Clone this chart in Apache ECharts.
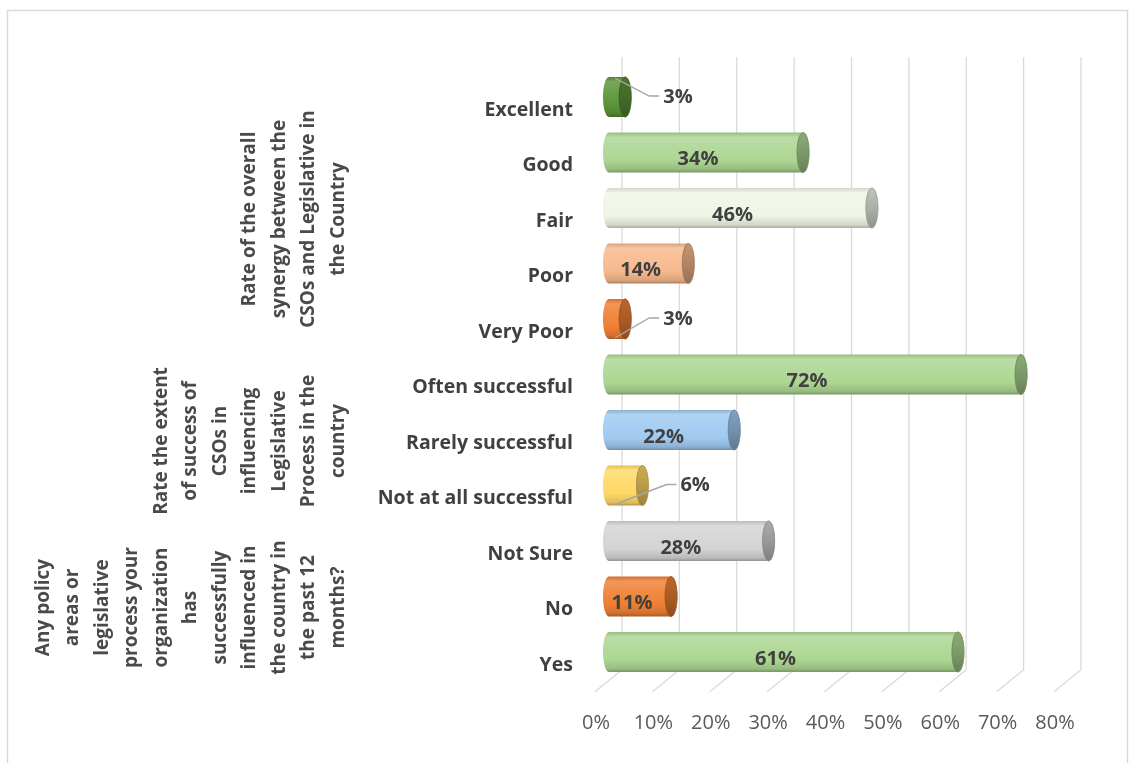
<!DOCTYPE html>
<html><head><meta charset="utf-8">
<script src="https://cdn.jsdelivr.net/npm/echarts@6/dist/echarts.min.js"></script>
<style>html,body{margin:0;padding:0;background:#fff;} #c{width:1135px;height:763px;}</style>
</head><body><div id="c"></div>
<script>
const categories = ['Excellent','Good','Fair','Poor','Very Poor','Often successful','Rarely successful','Not at all successful','Not Sure','No','Yes'];
const values = [3,34,46,14,3,72,22,6,28,11,61];
const groupLabels = [
  'Rate of the overall\nsynergy between the\nCSOs and Legislative in\nthe Country',
  'Rate the extent\nof success of\nCSOs in\ninfluencing\nLegislative\nProcess in the\ncountry',
  'Any policy\nareas or\nlegislative\nprocess your\norganization\nhas\nsuccessfully\ninfluenced in\nthe country in\nthe past 12\nmonths?'
];
const groupSizes = [5,3,3];
const tickValues = [0,10,20,30,40,50,60,70,80];
const barColors = ['#5b9438','#acd692','#eef6e6','#f7b98d','#ee7f33','#acd692','#a0caf0','#ffd966','#d4d4d4','#ee7f33','#acd692'];

const FONT = '"Open Sans", "Noto Sans", sans-serif';

function shade(hex, f){
  const n = parseInt(hex.slice(1),16);
  let r=(n>>16)&255, g=(n>>8)&255, b=n&255;
  if (f>=0){ r+= (255-r)*f; g+=(255-g)*f; b+=(255-b)*f; }
  else { r*=1+f; g*=1+f; b*=1+f; }
  return 'rgb('+Math.round(r)+','+Math.round(g)+','+Math.round(b)+')';
}

function bodyGrad(base){
  return new echarts.graphic.LinearGradient(0,0,0,1,[
    {offset:0, color: shade(base,-0.12)},
    {offset:0.12, color: shade(base,0.18)},
    {offset:0.35, color: shade(base,0.1)},
    {offset:0.7, color: base},
    {offset:0.92, color: shade(base,-0.12)},
    {offset:1, color: shade(base,-0.3)}
  ]);
}
function capGrad(base){
  return new echarts.graphic.LinearGradient(0,0,0,1,[
    {offset:0, color: shade(base,-0.2)},
    {offset:0.5, color: shade(base,-0.28)},
    {offset:1, color: shade(base,-0.4)}
  ]);
}

function renderBar(params, api){
  const v = api.value(0), idx = api.value(1);
  const p0 = api.coord([0, idx]);
  const p1 = api.coord([v, idx]);
  const h = api.size([0,1])[1] * 0.72;
  const yc = p0[1];
  const rx = 6;
  const s = p0[0] - 10;
  const e = p1[0] - 5;
  const base = barColors[params.dataIndex];
  const children = [
    {type:'ellipse', shape:{cx:s+rx, cy:yc, rx:rx, ry:h/2}, style:{fill: bodyGrad(base)}},
    {type:'rect', shape:{x:s+rx, y:yc-h/2, width:Math.max(0,e-(s+rx)), height:h}, style:{fill: bodyGrad(base)}},
    {type:'ellipse', shape:{cx:e, cy:yc, rx:rx, ry:h/2}, style:{fill: capGrad(base), stroke: shade(base,-0.35), lineWidth:0.6}}
  ];
  const txt = v + '%';
  const fontStr = 'bold 20px ' + FONT;
  if (v >= 8){
    const cx = (s + e + rx)/2 - 8;
    children.push({type:'text', style:{text:txt, x:cx, y:yc+7, font:fontStr, fill:'#404040',
      align:'center', verticalAlign:'middle', textAlign:'center', textVerticalAlign:'middle'}});
  } else {
    const fromTop = params.dataIndex === 0;
    const sy = fromTop ? yc - h/2 + 1 : yc + h/2 - 1;
    const endX = e + rx;
    children.push({type:'polyline', shape:{points:[[s+rx+6, sy],[endX+18, yc-1],[endX+28, yc-1]]},
      style:{stroke:'#a6a6a6', lineWidth:1.4, fill:null}});
    children.push({type:'text', style:{text:txt, x:endX+32, y:yc, font:fontStr, fill:'#404040',
      align:'left', verticalAlign:'middle', textAlign:'left', textVerticalAlign:'middle'}});
  }
  return {type:'group', children: children};
}

function renderGrid(params, api){
  const v = api.value(0);
  const p = api.coord([v, 0]);
  const cs = params.coordSys;
  const bx = p[0] + 9;
  const topY = cs.y - 12;
  const botY = cs.y + cs.height - 10;
  return {type:'group', children:[
    {type:'line', shape:{x1:bx, y1:topY, x2:bx, y2:botY}, style:{stroke:'#d9d9d9', lineWidth:1.3}},
    {type:'line', shape:{x1:bx, y1:botY, x2:bx-27, y2:botY+22}, style:{stroke:'#d9d9d9', lineWidth:1.3}}
  ]};
}

const chart = echarts.init(document.getElementById('c'), null, {renderer:'canvas'});
const option = {
  backgroundColor:'#ffffff',
  animation:false,
  grid:{left:613, right:63, top:69.25, bottom:83.25, containLabel:false},
  xAxis:{
    type:'value', min:0, max:80, interval:10,
    splitLine:{show:false}, axisLine:{show:false}, axisTick:{show:false},
    axisLabel:{formatter:'{value}%', color:'#595959', fontSize:20, fontFamily:FONT, margin:34, padding:[0,34,0,0]}
  },
  yAxis:{
    type:'category', data:categories, inverse:true,
    axisLine:{show:false}, axisTick:{show:false}, splitLine:{show:false},
    axisLabel:{color:'#404040', fontSize:19.5, fontWeight:'bold', fontFamily:FONT, margin:40,
      verticalAlign:'top', lineHeight:26}
  },
  series:[
    {type:'custom', name:'grid', renderItem:renderGrid, data: tickValues.map(v=>[v,0]), z:1, silent:true, clip:false},
    {type:'custom', name:'values', renderItem:renderBar, data: values.map((v,i)=>[v,i]), z:3, clip:false}
  ]
};
chart.setOption(option);

const graphics = [
  {type:'rect', shape:{x:7.5, y:10.5, width:1120, height:800}, style:{fill:null, stroke:'#d9d9d9', lineWidth:1.5}, silent:true}
];
let start = 0;
groupLabels.forEach((t, g) => {
  const n = groupSizes[g];
  const y1 = chart.convertToPixel({yAxisIndex:0}, categories[start]);
  const y2 = chart.convertToPixel({yAxisIndex:0}, categories[start+n-1]);
  const yc = (y1 + y2)/2 + 11;
  graphics.push({type:'text', x:353, y:yc, rotation:Math.PI/2,
    style:{text:t, font:'bold 19px ' + FONT, fill:'#4a4a4a', lineHeight:29.5,
      align:'center', verticalAlign:'bottom', textAlign:'center', textVerticalAlign:'bottom'}});
  start += n;
});
chart.setOption({graphic: graphics});
</script>
</body></html>
